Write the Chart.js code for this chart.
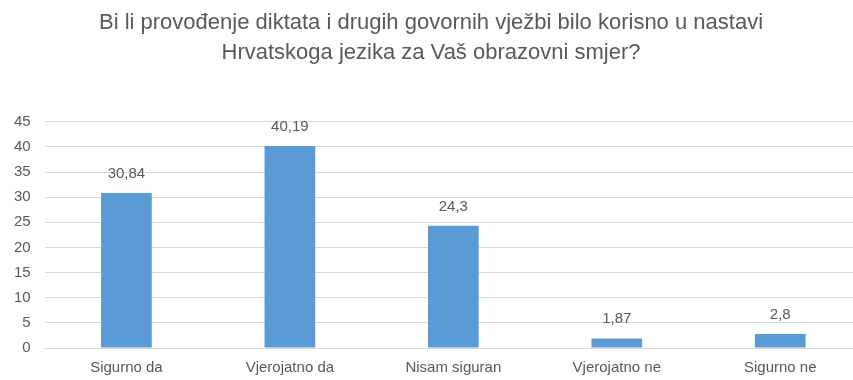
<!DOCTYPE html>
<html>
<head>
<meta charset="utf-8">
<script src="https://cdn.jsdelivr.net/npm/chart.js@4/dist/chart.umd.min.js"></script>
<style>
  html, body { margin: 0; padding: 0; background: #fff; overflow: hidden; }
  #wrap { width: 862px; height: 380px; }
</style>
</head>
<body>
<div id="wrap"><canvas id="answers" width="862" height="380"></canvas></div>
<script>
const categories = ["Sigurno da", "Vjerojatno da", "Nisam siguran", "Vjerojatno ne", "Sigurno ne"];
const percentages = [30.84, 40.19, 24.3, 1.87, 2.8];
const titleLines = [
  "Bi li provođenje diktata i drugih govornih vježbi bilo korisno u nastavi",
  "Hrvatskoga jezika za Vaš obrazovni smjer?"
];

const textGray = "#595959";
const fontName = "'Liberation Sans', sans-serif";

// values written above each bar, with a decimal comma
const valueLabels = {
  id: "valueLabels",
  afterDatasetsDraw(chart) {
    const ctx = chart.ctx;
    const meta = chart.getDatasetMeta(0);
    ctx.save();
    ctx.font = "15px " + fontName;
    ctx.fillStyle = textGray;
    ctx.textAlign = "center";
    ctx.textBaseline = "bottom";
    meta.data.forEach((bar, i) => {
      const txt = String(percentages[i]).replace(".", ",");
      ctx.fillText(txt, bar.x, bar.y - 12);
    });
    ctx.restore();
  }
};

new Chart(document.getElementById("answers"), {
  type: "bar",
  data: {
    labels: categories,
    datasets: [{
      data: percentages,
      backgroundColor: "#5B9BD5",
      categoryPercentage: 1,
      barPercentage: 0.31
    }]
  },
  options: {
    responsive: false,
    animation: false,
    layout: { padding: { top: 8, left: 0, right: 0, bottom: 0 } },
    plugins: {
      legend: { display: false },
      tooltip: { enabled: false },
      title: {
        display: true,
        text: titleLines,
        color: textGray,
        font: { family: fontName, size: 22, weight: "normal", lineHeight: 1.36 },
        padding: { top: 0, bottom: 54 }
      }
    },
    scales: {
      x: {
        grid: { display: false },
        border: { color: "#D9D9D9" },
        ticks: { color: textGray, font: { family: fontName, size: 15 }, padding: 3 }
      },
      y: {
        min: 0,
        max: 45,
        ticks: { stepSize: 5, color: textGray, font: { family: fontName, size: 15 }, padding: 14 },
        grid: { color: "#D9D9D9", drawTicks: false },
        border: { display: false }
      }
    }
  },
  plugins: [valueLabels]
});
</script>
</body>
</html>
